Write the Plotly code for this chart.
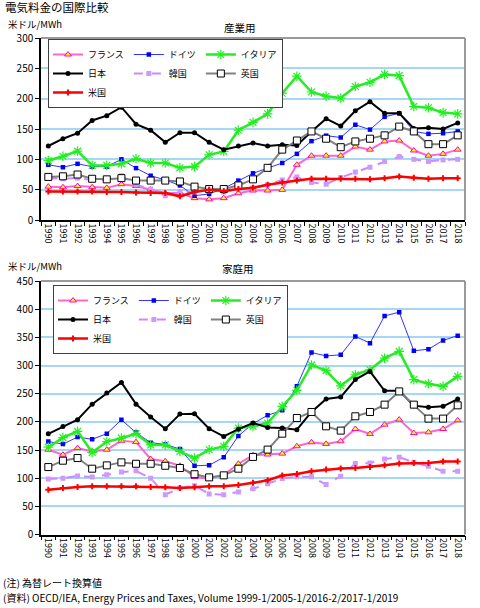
import plotly.graph_objects as go

FONT = "Noto Sans CJK JP"
W, H = 480, 608

years = ['1990', '1991', '1992', '1993', '1994', '1995', '1996', '1997', '1998', '1999',
         '2000', '2001', '2002', '2003', '2004', '2005', '2006', '2007', '2008', '2009',
         '2010', '2011', '2012', '2013', '2014', '2015', '2016', '2017', '2018']

# 産業用 (US$/MWh)
france_ind = [55, 54, 56, 54, 53, 59, 56, 50, 44, 45, 36, 34, 36, 44, 48.6, 48.6, 49.7, 91, 106, 106,
              106, 121, 116, 129.5, 131, 114.6, 106, 109, 116]
germany_ind = [91, 87, 92.6, 88, 88, 100, 85.5, 73, 66, 57, 40, 43, 52, 65, 77, 85.5, 94, 109, 130, 139,
               136, 157, 149, 170, 176, 146, 142, 143, 146]
italy_ind = [98, 105, 113.5, 90, 90, 92.6, 101, 94, 94, 86, 88, 107.5, 113, 148, 161, 175, 209, 237, 211, 204,
             201, 220, 227, 240, 238, 187, 185, 177, 175]
japan_ind = [122, 134, 143, 164, 172, 186, 158, 148, 128, 144, 144, 128, 116, 122, 127, 122, 124, 123, 146, 167,
             155, 180, 195, 176, 176, 151, 152, 150, 160]
korea_ind = [69, 68, 69, 66, 66, 73, 58, 51, 40, 46, 46, 48, 46, 50, 53, 58, 66, 71, 62, 59,
             70, 79, 87, 96.5, 104.7, 100, 96.5, 99, 100]
uk_ind = [71, 72, 75, 68, 67, 69, 65, 65, 65, 63.5, 55, 51, 51, 57, 67, 86, 116, 131, 146, 134,
          120, 129.5, 134, 139.5, 154, 146, 125, 125, 139.5]
us_ind = [47, 47, 47, 47, 46, 46, 45.5, 44.5, 44.5, 39, 46, 50, 48, 51, 53, 58, 62, 65, 68, 68,
          68, 68, 67, 69, 71.5, 69.5, 68, 69, 69]

# 家庭用 (US$/MWh)
france_res = [150.5, 141.6, 153.4, 147.5, 150.5, 166.4, 164, 134, 130, 122, 102, 99, 106, 125.6, 140.7, 142,
              143.6, 156.6, 163.7, 160.8, 165.5, 187.3, 178.5, 195, 204, 180, 181.4, 187.3, 202.7]
germany_res = [165, 160.5, 173, 169, 179, 203.7, 181, 163, 160, 151.6, 122, 123, 137, 175, 197, 211.6,
               220.4, 263, 323, 317, 319, 351.6, 339.7, 388, 394.7, 326, 329, 344.5, 353]
italy_res = [155, 172, 183, 145.7, 165, 171, 179, 159, 159, 147.5, 135.7, 150.5, 156.4, 189, 192, 198,
             227.5, 256, 301, 291, 264, 283.6, 292.5, 313, 325, 275, 267.7, 263, 280.7]
japan_res = [178.8, 191.8, 203.7, 231.4, 251, 270, 231.4, 208.4, 187.7, 213.7, 214.3, 187.7, 174, 187, 198,
             190, 189, 186, 217.5, 240.5, 244, 275, 289.5, 255, 255, 228.7, 225.7, 227.5, 240.5]
korea_res = [98.5, 100, 104, 102, 106, 111, 113, 100, 70.7, 82.5, 86.6, 72, 70.7, 75.4, 81, 90, 99.3,
             102.3, 102.3, 88.7, 103.5, 126, 127, 134.2, 137, 128.3, 121, 112.3, 112.3]
uk_res = [119.7, 131, 135.7, 116.8, 122.7, 128, 125.6, 125.6, 122, 118, 107, 101.4, 105, 116.8, 137.7,
          150.7, 179, 206.8, 217.5, 192, 184.4, 209.8, 217.5, 230.5, 254, 230.5, 205.7, 205.7, 229.3]
us_res = [79.5, 82.5, 84.3, 85.5, 85.5, 85.5, 85.5, 84.3, 83.7, 82.5, 83.7, 85.5, 85.5, 87.8, 91.7, 96.4,
          104.7, 107.6, 112.3, 115.3, 117, 118.2, 120, 123, 126, 127, 127, 129.5, 129.5]

# legend order: grouped into columns (col1: フランス/日本/米国, col2: ドイツ/韓国, col3: イタリア/英国)
series = [
    ('フランス', france_ind, france_res, 'c1',
     dict(color='#ff66cc', width=2), dict(symbol='triangle-up', size=6, color='#ffff00', line=dict(color='#ff00cc', width=1))),
    ('ドイツ', germany_ind, germany_res, 'c2',
     dict(color='#3333ff', width=1), dict(symbol='square', size=4.5, color='#0000ff')),
    ('イタリア', italy_ind, italy_res, 'c3',
     dict(color='#22ee22', width=2.5), dict(symbol='asterisk-open', size=8, line=dict(color='#22ee22', width=1.2))),
    ('日本', japan_ind, japan_res, 'c1',
     dict(color='#000000', width=2), dict(symbol='circle', size=5, color='#000000')),
    ('韓国', korea_ind, korea_res, 'c2',
     dict(color='#cc88ff', width=2, dash='dash'), dict(symbol='square', size=5, color='#cc99ff')),
    ('英国', uk_ind, uk_res, 'c3',
     dict(color='#808080', width=2), dict(symbol='square', size=7, color='white', line=dict(color='#000000', width=1))),
    ('米国', us_ind, us_res, 'c1',
     dict(color='#ff0000', width=2.5), dict(symbol='cross', size=5, color='#ff0000')),
]

fig = go.Figure()
for name, ind, res, grp, line, marker in series:
    fig.add_trace(go.Scatter(x=years, y=ind, name=name, mode='lines+markers', line=line, marker=marker,
                             xaxis='x', yaxis='y', legend='legend', legendgroup='top_' + grp))
for name, ind, res, grp, line, marker in series:
    fig.add_trace(go.Scatter(x=years, y=res, name=name, mode='lines+markers', line=line, marker=marker,
                             xaxis='x2', yaxis='y2', legend='legend2', legendgroup='bot_' + grp))

xdom = [41 / W, 465 / W]
xcommon = dict(domain=xdom, type='category', categoryorder='array', categoryarray=years,
               range=[-0.5, 28.5], tickson='boundaries', ticks='outside', ticklen=4, tickcolor='#000',
               tickangle=90, tickfont=dict(family=FONT, size=9, color='#000'),
               showline=True, linecolor='#000', linewidth=1.5, showgrid=False, zeroline=False)
ycommon = dict(dtick=50, ticks='outside', ticklen=4, tickcolor='#000',
               tickfont=dict(family=FONT, size=10, color='#000'),
               showline=True, linecolor='#000', linewidth=1.5, showgrid=True,
               gridcolor='#a6d8f6', gridwidth=1.5, zeroline=False)

fig.update_layout(
    width=W, height=H,
    margin=dict(l=0, r=0, t=0, b=0),
    paper_bgcolor='white', plot_bgcolor='white',
    template='none',
    showlegend=True,
    font=dict(family=FONT, color='#000'),
    xaxis=dict(anchor='y', **xcommon),
    yaxis=dict(anchor='x', domain=[1 - 220 / H, 1 - 38 / H], range=[0, 300], **ycommon),
    xaxis2=dict(anchor='y2', **xcommon),
    yaxis2=dict(anchor='x2', domain=[1 - 534.5 / H, 1 - 281 / H], range=[0, 450], **ycommon),
)

legend_common = dict(orientation='h', traceorder='grouped', itemwidth=30,
                     font=dict(family=FONT, size=9, color='#000'),
                     bgcolor='white', bordercolor='#404040', borderwidth=1,
                     xanchor='left', yanchor='top')
fig.update_layout(
    legend=dict(x=48 / W, y=1 - 39 / H, **legend_common),
    legend2=dict(x=53 / W, y=1 - 285 / H, **legend_common),
)

# gray frame on top and right of each plot area
for xr, yr in (('x domain', 'y domain'), ('x2 domain', 'y2 domain')):
    fig.add_shape(type='line', xref=xr, yref=yr, x0=0, x1=1, y0=1, y1=1, line=dict(color='#9a9a9a', width=2))
    fig.add_shape(type='line', xref=xr, yref=yr, x0=1, x1=1, y0=0, y1=1, line=dict(color='#9a9a9a', width=2))


def label(text, px, py, size=10, anchor='left'):
    fig.add_annotation(text=text, x=px / W, y=1 - py / H, xref='paper', yref='paper',
                       xanchor=anchor, yanchor='middle', showarrow=False, borderpad=0,
                       font=dict(family=FONT, size=size, color='#000'))


label('電気料金の国際比較', 4, 7, size=11.5)
label('米ドル/MWh', 7, 24, size=9.5)
label('産業用', 240, 28, size=10.5, anchor='center')
label('米ドル/MWh', 7, 266, size=9.5)
label('家庭用', 238, 269, size=10.5, anchor='center')
label('(注) 為替レート換算値', 2, 582)
label('(資料) OECD/IEA, Energy Prices and Taxes, Volume 1999-1/2005-1/2016-2/2017-1/2019', 2, 597)

# the page body has a default 8px margin; drop it so the figure sits at the window's corner
fig.write_html("out.html", config={'displayModeBar': False},
               post_script="document.body.style.margin = '0';")
